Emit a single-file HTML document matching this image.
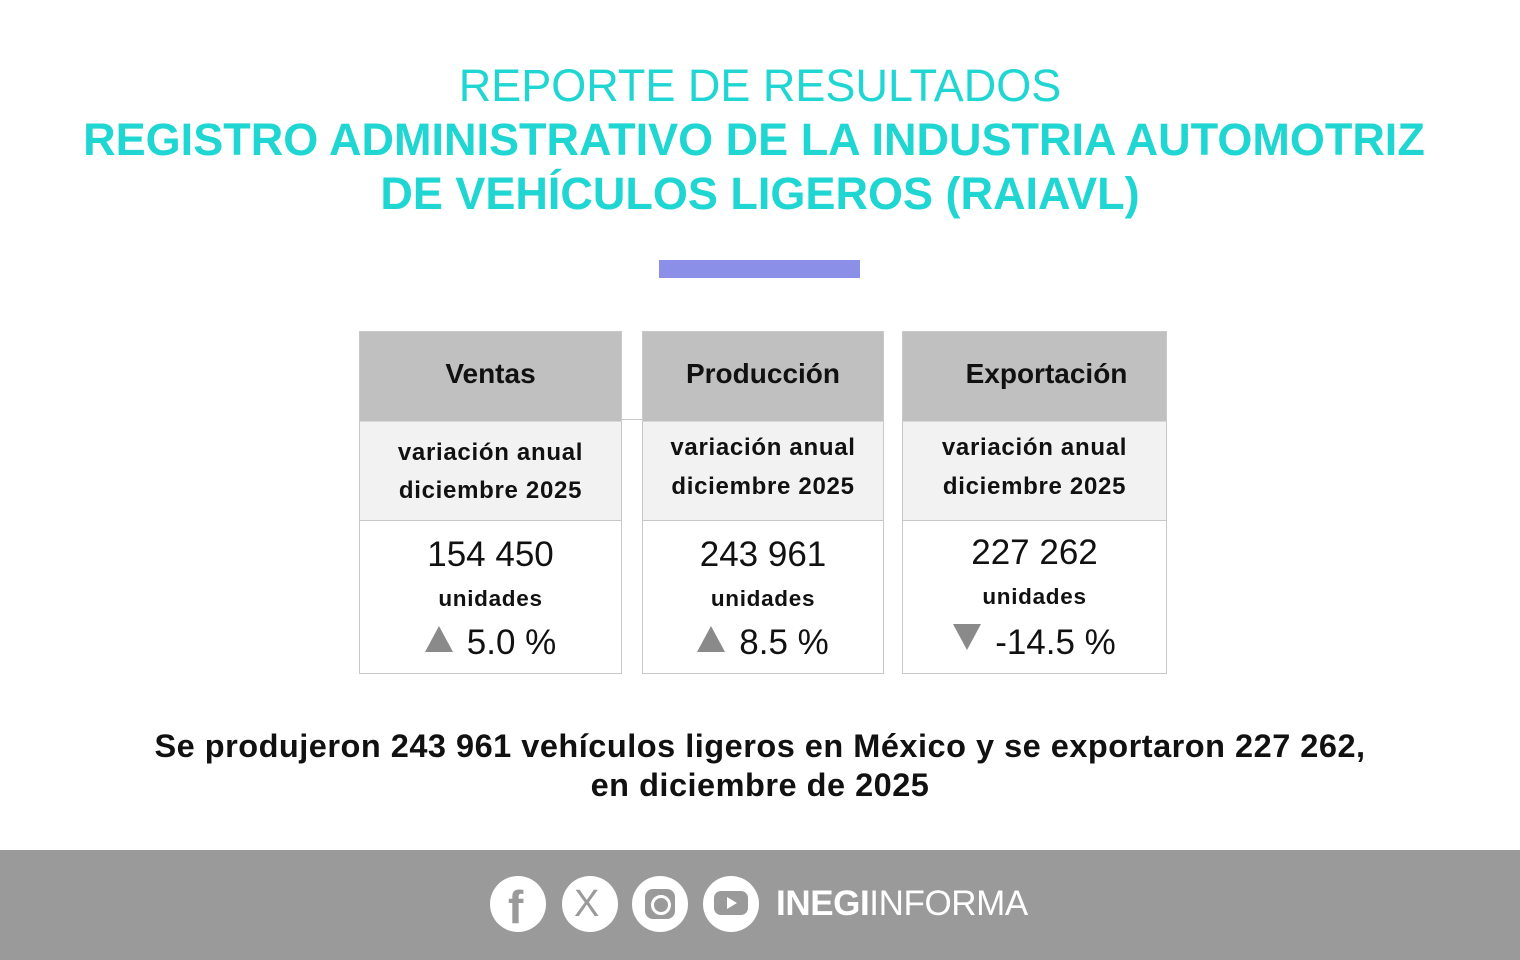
<!DOCTYPE html>
<html><head><meta charset="utf-8"><style>
body{margin:0;width:1520px;height:960px;background:#fff;position:relative;font-family:"Liberation Sans",Arial,sans-serif;overflow:hidden}
.a{position:absolute;white-space:nowrap}
.t{left:0;width:1520px;text-align:center;color:#1fd6d2}
.box{position:absolute;top:331px;height:341px;border:1px solid #c8c8c8;background:#fff}
.h{position:absolute;left:0;right:0;top:0;height:89px;background:#c0c0c0;font-weight:bold;font-size:28px;text-align:center;line-height:84px;color:#111}
.m{position:absolute;left:0;right:0;top:89px;height:98px;background:#f2f2f2;border-bottom:1px solid #c8c8c8;border-top:1px solid #d8d8d8;font-weight:bold;font-size:24px;text-align:center;color:#111;letter-spacing:0.7px}
.n{position:absolute;left:0;right:0;text-align:center;color:#111}
.tri{display:inline-block;width:0;height:0;border-left:14px solid transparent;border-right:14px solid transparent;margin-right:14px;vertical-align:2px}
.up{border-bottom:26px solid #8a8a8a}
.dn{border-top:26px solid #8a8a8a}
.c{position:absolute;top:876px;width:56px;height:56px;border-radius:50%;background:#fff}
</style></head><body>
<div class="a t" style="top:60px;font-size:45px">REPORTE DE RESULTADOS</div>
<div class="a t" style="top:114px;font-size:45px;font-weight:bold;left:-6px">REGISTRO ADMINISTRATIVO DE LA INDUSTRIA AUTOMOTRIZ</div>
<div class="a t" style="top:168px;font-size:45px;font-weight:bold">DE VEHÍCULOS LIGEROS (RAIAVL)</div>
<div class="a" style="left:659px;top:260px;width:201px;height:18px;background:#8b8fe8"></div>
<div class="a" style="left:621px;top:419px;width:22px;height:1px;background:#c8c8c8"></div>

<div class="box" style="left:359px;width:261px">
<div class="h">Ventas</div>
<div class="m"><div style="position:absolute;top:17px;left:0;right:0">variación anual</div><div style="position:absolute;top:55px;left:0;right:0">diciembre 2025</div></div>
<div class="n" style="top:203px;font-size:35px">154 450</div>
<div class="n" style="top:254px;font-size:22.5px;font-weight:bold;letter-spacing:0.7px">unidades</div>
<div class="n" style="top:291px;font-size:35px"><span class="tri up"></span>5.0 %</div>
</div>

<div class="box" style="left:642px;width:240px">
<div class="h">Producción</div>
<div class="m"><div style="position:absolute;top:12px;left:0;right:0">variación anual</div><div style="position:absolute;top:51px;left:0;right:0">diciembre 2025</div></div>
<div class="n" style="top:203px;font-size:35px">243 961</div>
<div class="n" style="top:254px;font-size:22.5px;font-weight:bold;letter-spacing:0.7px">unidades</div>
<div class="n" style="top:291px;font-size:35px"><span class="tri up"></span>8.5 %</div>
</div>

<div class="box" style="left:902px;width:263px">
<div class="h" style="padding-left:24px;box-sizing:border-box">Exportación</div>
<div class="m"><div style="position:absolute;top:12px;left:0;right:0">variación anual</div><div style="position:absolute;top:51px;left:0;right:0">diciembre 2025</div></div>
<div class="n" style="top:201px;font-size:35px">227 262</div>
<div class="n" style="top:252px;font-size:22.5px;font-weight:bold;letter-spacing:0.7px">unidades</div>
<div class="n" style="top:291px;font-size:35px"><span class="tri dn" style="vertical-align:4px"></span>-14.5 %</div>
</div>

<div class="a" style="left:0;width:1520px;text-align:center;top:728px;font-size:32.5px;letter-spacing:0.5px;font-weight:bold;color:#111">Se produjeron 243 961 vehículos ligeros en México y se exportaron 227 262,</div>
<div class="a" style="left:0;width:1520px;text-align:center;top:767px;font-size:32.5px;letter-spacing:0.5px;font-weight:bold;color:#111">en diciembre de 2025</div>

<div class="a" style="left:0;top:850px;width:1520px;height:110px;background:#9a9a9a"></div>
<div class="c" style="left:490px"></div>
<div class="a" style="left:508px;top:880px;font-size:46px;font-weight:bold;color:#9a9a9a">f</div>
<div class="c" style="left:562px"></div>
<div class="a" style="left:574px;top:883px;font-size:38px;color:#9a9a9a">X</div>
<div class="c" style="left:632px"></div>
<div class="a" style="left:645px;top:889px;width:30px;height:30px;border-radius:8px;background:#9a9a9a"></div>
<div class="a" style="left:651px;top:895px;width:14px;height:14px;border-radius:50%;border:3px solid #fff"></div>
<div class="c" style="left:703px"></div>
<div class="a" style="left:714px;top:891px;width:34px;height:24px;border-radius:7px;background:#9a9a9a"></div>
<div class="a" style="left:727px;top:897px;width:0;height:0;border-top:6px solid transparent;border-bottom:6px solid transparent;border-left:10px solid #fff"></div>
<div class="a" style="left:776px;top:884px;font-size:35px;color:#fff;letter-spacing:-0.4px"><b>INEGI</b>INFORMA</div>
</body></html>
